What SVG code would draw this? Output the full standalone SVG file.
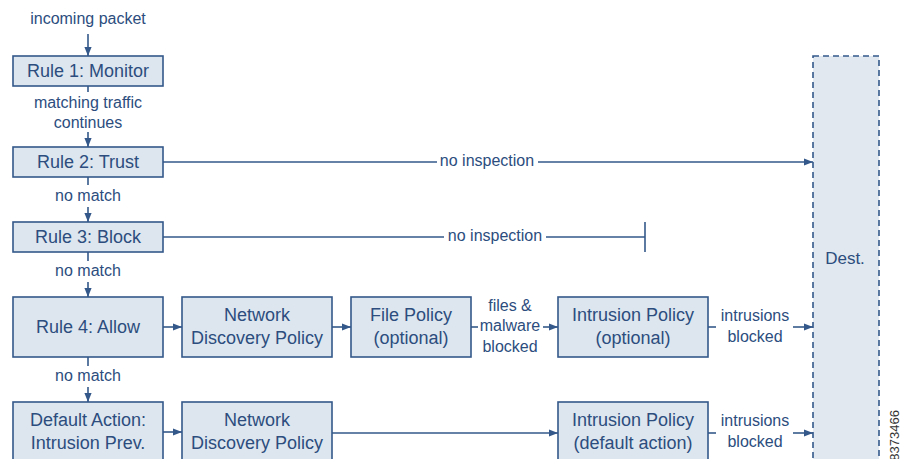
<svg xmlns="http://www.w3.org/2000/svg" width="901" height="459" viewBox="0 0 901 459">
<style>
.box{fill:#dde6ee;stroke:#34588a;stroke-width:1.6}
.dest{fill:#e1e8ef;stroke:#34588a;stroke-width:1.6;stroke-dasharray:6,4}
.t{font-family:"Liberation Sans",Arial,sans-serif;font-size:18px;fill:#2c4d7e;text-anchor:middle}
.s{font-family:"Liberation Sans",Arial,sans-serif;font-size:16px;fill:#2c4d7e;text-anchor:middle}
.ln{stroke:#34588a;stroke-width:1.6;fill:none}
.a{marker-end:url(#ah)}
</style>
<defs>
<marker id="ah" viewBox="0 0 10 10" refX="10" refY="5" markerWidth="10" markerHeight="9" markerUnits="userSpaceOnUse" orient="auto">
<path d="M0,1 L10,5 L0,9 z" fill="#34588a"/>
</marker>
</defs>
<rect width="901" height="459" fill="#ffffff"/>

<g id="dest"><rect class="dest" x="813" y="56" width="66" height="420"/><text class="s" x="845" y="264" style="font-size:17px">Dest.</text></g>

<g id="connectors">
<line class="ln a" x1="88" y1="34" x2="88" y2="56"/>
<line class="ln" x1="88" y1="86" x2="88" y2="92"/>
<line class="ln a" x1="88" y1="132" x2="88" y2="147"/>
<line class="ln" x1="88" y1="177" x2="88" y2="185"/>
<line class="ln a" x1="88" y1="207" x2="88" y2="222"/>
<line class="ln" x1="88" y1="252" x2="88" y2="261"/>
<line class="ln a" x1="88" y1="282" x2="88" y2="297"/>
<line class="ln" x1="88" y1="357" x2="88" y2="366"/>
<line class="ln a" x1="88" y1="387" x2="88" y2="402"/>
<line class="ln" x1="163" y1="162" x2="437" y2="162"/>
<line class="ln a" x1="538" y1="162" x2="813" y2="162"/>
<line class="ln" x1="163" y1="237" x2="444" y2="237"/>
<line class="ln" x1="546" y1="237" x2="645" y2="237"/>
<line class="ln" x1="645" y1="222" x2="645" y2="252"/>
<line class="ln a" x1="163" y1="327" x2="182" y2="327"/>
<line class="ln a" x1="332" y1="327" x2="351" y2="327"/>
<line class="ln" x1="471" y1="327" x2="478" y2="327"/>
<line class="ln a" x1="543" y1="327" x2="558" y2="327"/>
<line class="ln" x1="708" y1="327" x2="716" y2="327"/>
<line class="ln a" x1="793" y1="327" x2="813" y2="327"/>
<line class="ln a" x1="163" y1="432" x2="182" y2="432"/>
<line class="ln a" x1="332" y1="433" x2="558" y2="433"/>
<line class="ln" x1="708" y1="433" x2="716" y2="433"/>
<line class="ln a" x1="793" y1="433" x2="813" y2="433"/>
</g>

<g id="labels">
<text class="s" x="88" y="24">incoming packet</text>
<text class="s" x="88" y="108">matching traffic</text>
<text class="s" x="88" y="128">continues</text>
<text class="s" x="88" y="201">no match</text>
<text class="s" x="88" y="276">no match</text>
<text class="s" x="88" y="381">no match</text>
<text class="s" x="487" y="166">no inspection</text>
<text class="s" x="495" y="241">no inspection</text>
<text class="s" x="510" y="311">files &amp;</text>
<text class="s" x="510" y="331">malware</text>
<text class="s" x="510" y="352">blocked</text>
<text class="s" x="755" y="321">intrusions</text>
<text class="s" x="755" y="342">blocked</text>
<text class="s" x="755" y="426">intrusions</text>
<text class="s" x="755" y="447">blocked</text>
<text class="s" transform="translate(899,410) rotate(-90)" style="font-size:13px;text-anchor:end;fill:#333">8373466</text>
</g>

<g id="rule1"><rect class="box" x="13" y="56" width="150" height="30"/><text class="t" x="88" y="77">Rule 1: Monitor</text></g>
<g id="rule2"><rect class="box" x="13" y="147" width="150" height="30"/><text class="t" x="88" y="168">Rule 2: Trust</text></g>
<g id="rule3"><rect class="box" x="13" y="222" width="150" height="30"/><text class="t" x="88" y="243">Rule 3: Block</text></g>
<g id="rule4"><rect class="box" x="13" y="297" width="150" height="60"/><text class="t" x="88" y="333">Rule 4: Allow</text></g>
<g id="default"><rect class="box" x="13" y="402" width="150" height="70"/><text class="t" x="88" y="426">Default Action:</text><text class="t" x="88" y="449">Intrusion Prev.</text></g>
<g id="nd1"><rect class="box" x="182" y="297" width="150" height="60"/><text class="t" x="257" y="321">Network</text><text class="t" x="257" y="344">Discovery Policy</text></g>
<g id="file"><rect class="box" x="351" y="297" width="120" height="60"/><text class="t" x="411" y="321">File Policy</text><text class="t" x="411" y="344">(optional)</text></g>
<g id="ip1"><rect class="box" x="558" y="297" width="150" height="60"/><text class="t" x="633" y="321">Intrusion Policy</text><text class="t" x="633" y="344">(optional)</text></g>
<g id="nd2"><rect class="box" x="182" y="402" width="150" height="70"/><text class="t" x="257" y="426">Network</text><text class="t" x="257" y="449">Discovery Policy</text></g>
<g id="ip2"><rect class="box" x="558" y="402" width="150" height="70"/><text class="t" x="633" y="426">Intrusion Policy</text><text class="t" x="633" y="449">(default action)</text></g>
</svg>
